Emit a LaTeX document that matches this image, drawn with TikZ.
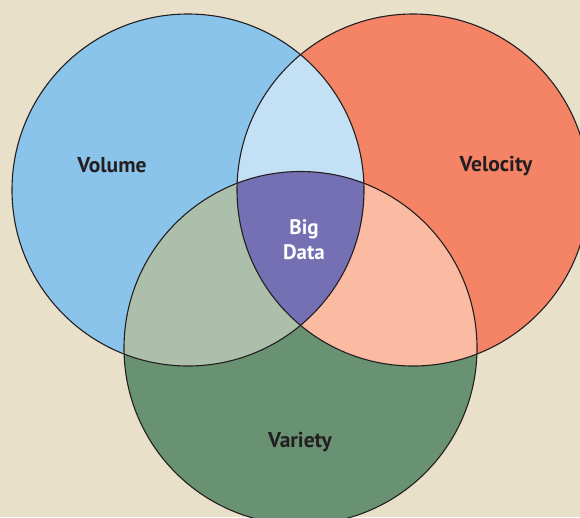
\documentclass[tikz,border=0pt]{standalone}
\usepackage{fontspec}
\setmainfont{PT Sans}
\definecolor{bgc}{RGB}{232,224,201}
\definecolor{volc}{RGB}{139,196,234}
\definecolor{velc}{RGB}{245,132,102}
\definecolor{varc}{RGB}{104,146,114}
\definecolor{volvel}{RGB}{195,224,244}
\definecolor{volvar}{RGB}{171,191,171}
\definecolor{velvar}{RGB}{250,187,162}
\definecolor{allc}{RGB}{117,112,179}
\definecolor{txtc}{RGB}{35,31,32}
\begin{document}
\begin{tikzpicture}[x=1pt,y=-1pt,
  lbl/.style={font=\fontsize{21.5}{24}\selectfont\bfseries, text=txtc, inner sep=0pt},
  wlbl/.style={font=\fontsize{21}{25}\selectfont\bfseries, text=white, inner sep=0pt, align=center},
  ring/.style={draw=txtc, line width=1.1pt}]
\fill[bgc] (0,0) rectangle (580,517);
\useasboundingbox (0,0) rectangle (580,517);
\coordinate (cvol) at (188,190);
\coordinate (cvel) at (413,190);
\coordinate (cvar) at (300.5,348);
\begin{scope}
\clip (0,0) rectangle (580,517);
\fill[volc] (cvol) circle (176pt);
\fill[velc] (cvel) circle (176pt);
\fill[varc] (cvar) circle (176.5pt);
\begin{scope}\clip (cvol) circle (176pt); \fill[volvel] (cvel) circle (176pt); \end{scope}
\begin{scope}\clip (cvol) circle (176pt); \fill[volvar] (cvar) circle (176.5pt); \end{scope}
\begin{scope}\clip (cvel) circle (176pt); \fill[velvar] (cvar) circle (176.5pt); \end{scope}
\begin{scope}\clip (cvol) circle (176pt); \clip (cvel) circle (176pt); \fill[allc] (cvar) circle (176.5pt); \end{scope}
\draw[ring] (cvol) circle (176pt);
\draw[ring] (cvel) circle (176pt);
\draw[ring] (cvar) circle (176.5pt);
\end{scope}
\node[lbl] (volume) at (112,165) {Volume};
\node[lbl] (velocity) at (496,166) {Velocity};
\node[lbl] (variety) at (300,442) {Variety};
\node[wlbl] (big) at (304,240) {Big\\Data};
\end{tikzpicture}
\end{document}
